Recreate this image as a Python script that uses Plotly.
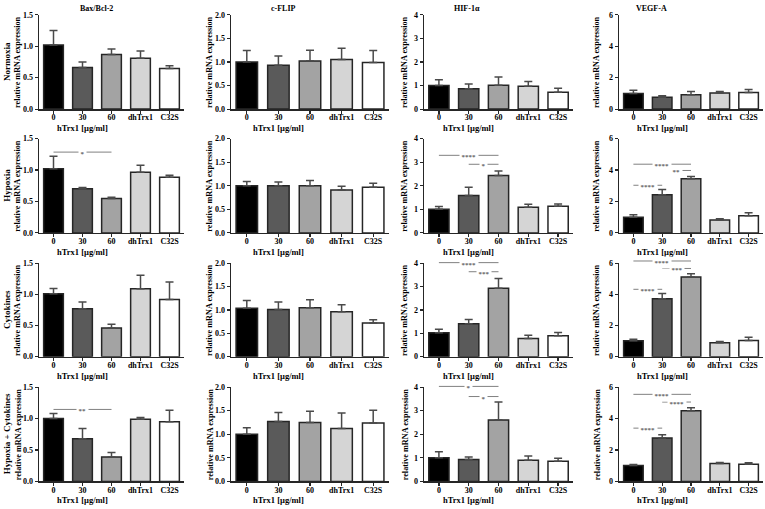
import plotly.graph_objects as go

# ---------------- data ----------------
categories = ["0", "30", "60", "dhTrx1", "C32S"]
genes = ["Bax/Bcl-2", "c-FLIP", "HIF-1α", "VEGF-A"]
conditions = ["Normoxia", "Hypoxia", "Cytokines", "Hypoxia + Cytokines"]
x_title = "hTrx1 [µg/ml]"
y_title = "relative mRNA expression"

y_max = [1.5, 2.0, 4, 6]
y_dtick = [0.5, 0.5, 1, 2]
y_format = [".1f", ".1f", "d", "d"]

# rows: Normoxia, Hypoxia, Cytokines, Hypoxia + Cytokines
bax_mean = [[1.02, 0.66, 0.87, 0.81, 0.645],
            [1.02, 0.70, 0.545, 0.965, 0.885],
            [1.01, 0.77, 0.46, 1.09, 0.92],
            [1.00, 0.68, 0.39, 0.99, 0.95]]
bax_err = [[0.23, 0.09, 0.085, 0.115, 0.045],
           [0.20, 0.02, 0.02, 0.11, 0.03],
           [0.085, 0.11, 0.06, 0.22, 0.28],
           [0.08, 0.16, 0.07, 0.025, 0.18]]

cflip_mean = [[1.00, 0.93, 1.02, 1.05, 0.99],
              [1.00, 1.00, 1.00, 0.91, 0.97],
              [1.035, 1.01, 1.05, 0.96, 0.72],
              [1.00, 1.27, 1.25, 1.12, 1.24]]
cflip_err = [[0.245, 0.195, 0.23, 0.24, 0.255],
             [0.09, 0.08, 0.11, 0.08, 0.08],
             [0.17, 0.16, 0.17, 0.15, 0.07],
             [0.14, 0.19, 0.24, 0.33, 0.27]]

hif_mean = [[1.00, 0.86, 1.01, 0.97, 0.72],
            [1.00, 1.59, 2.43, 1.09, 1.13],
            [1.02, 1.41, 2.93, 0.78, 0.90],
            [1.00, 0.93, 2.60, 0.90, 0.85]]
hif_err = [[0.25, 0.20, 0.35, 0.20, 0.17],
           [0.12, 0.35, 0.19, 0.12, 0.10],
           [0.15, 0.18, 0.42, 0.14, 0.13],
           [0.26, 0.11, 0.77, 0.18, 0.13]]

vegf_mean = [[1.00, 0.75, 0.92, 1.02, 1.05],
             [1.00, 2.43, 3.45, 0.82, 1.09],
             [1.02, 3.73, 5.12, 0.90, 1.04],
             [1.01, 2.76, 4.50, 1.14, 1.09]]
vegf_err = [[0.20, 0.10, 0.20, 0.10, 0.20],
            [0.15, 0.33, 0.13, 0.08, 0.19],
            [0.10, 0.33, 0.21, 0.08, 0.21],
            [0.06, 0.21, 0.19, 0.06, 0.09]]

# significance brackets
sig_row = [1, 1, 1, 1, 1, 1, 2, 2, 2, 2, 2, 3, 3, 3, 3, 3, 3]
sig_col = [0, 2, 2, 3, 3, 3, 2, 2, 3, 3, 3, 0, 2, 2, 3, 3, 3]
sig_from = [0, 0, 1, 0, 1, 0, 0, 1, 0, 1, 0, 0, 0, 1, 0, 1, 0]
sig_to = [2, 2, 2, 2, 2, 1, 2, 2, 2, 2, 1, 2, 2, 2, 2, 2, 1]
sig_y = [1.285, 3.29, 2.91, 4.37, 3.97, 3.03, 4.03, 3.64, 6.15, 5.67, 4.33,
         1.145, 4.03, 3.60, 5.54, 5.05, 3.39]
sig_label = ["*", "****", "*", "****", "**", "****", "****", "***", "****", "***", "****",
             "**", "*", "*", "****", "****", "****"]

# ---------------- style / layout ----------------
W, H = 765, 509
FONT = "Liberation Serif"
bar_colors = ["#000000", "#5a5a5a", "#a3a3a3", "#d5d5d5", "#ffffff"]
EDGE = "#262626"
ERR = "#4a4a4a"
AXC = "#262626"
SIGC = "#808080"

col_x0 = [39, 231, 424, 619]
col_x1 = [184, 389, 573, 763]
row_top = [11, 137, 264, 390]
row_bot = [107, 233, 359, 486]
ylab_x = [18, 210, 405, 597]
title_x = [96, 283, 467, 651]

means = [bax_mean, cflip_mean, hif_mean, vegf_mean]
errs = [bax_err, cflip_err, hif_err, vegf_err]
xpos = list(range(len(categories)))

fig = go.Figure()
layout = {}
annotations = []
shapes = []

def tf(size, color="black"):
    return dict(family=FONT, size=size, color=color, weight="bold")

for r in range(4):
    for c in range(4):
        k = r * 4 + c + 1
        sfx = "" if k == 1 else str(k)
        xa, ya = "x" + sfx, "y" + sfx
        fig.add_trace(go.Bar(
            x=xpos, y=means[c][r], width=0.68,
            marker=dict(color=bar_colors, line=dict(color=EDGE, width=1.5)),
            error_y=dict(type="data", array=errs[c][r], arrayminus=[0] * 5,
                         symmetric=False, color=ERR, thickness=1.5, width=4),
            xaxis=xa, yaxis=ya, showlegend=False, hoverinfo="skip"))
        layout["xaxis" + sfx] = dict(
            domain=[col_x0[c] / W, col_x1[c] / W], anchor=ya,
            range=[-0.5, 4.5], tickvals=xpos, ticktext=categories, tickangle=0,
            showline=True, linecolor=AXC, linewidth=1.5,
            ticks="outside", ticklen=3, tickwidth=1.2, tickcolor=AXC,
            ticklabelstandoff=-3,
            tickfont=tf(8), showgrid=False, zeroline=False, fixedrange=True)
        layout["yaxis" + sfx] = dict(
            domain=[1 - row_bot[r] / H, 1 - row_top[r] / H], anchor=xa,
            range=[0, y_max[c]], dtick=y_dtick[c], tick0=0, tickformat=y_format[c],
            showline=True, linecolor=AXC, linewidth=1.5,
            ticks="outside", ticklen=3, tickwidth=1.2, tickcolor=AXC,
            tickfont=tf(8), showgrid=False, zeroline=False, fixedrange=True)
        # x-axis title centred under the hTrx1 concentrations
        annotations.append(dict(
            xref=xa, yref=ya + " domain", x=1, y=0, yshift=-19,
            xanchor="center", yanchor="middle", showarrow=False,
            text=x_title, font=tf(8.5)))
        # y-axis title
        annotations.append(dict(
            xref="paper", yref="paper", x=ylab_x[c] / W,
            y=1 - (row_top[r] + row_bot[r]) / 2 / H,
            xanchor="center", yanchor="middle", textangle=-90, showarrow=False,
            text=y_title, font=tf(8.2)))

# condition labels
for r in range(4):
    annotations.append(dict(
        xref="paper", yref="paper", x=7 / W, y=1 - (row_top[r] + row_bot[r]) / 2 / H,
        xanchor="center", yanchor="middle", textangle=-90, showarrow=False,
        text=conditions[r], font=tf(9)))

# gene titles
for c in range(4):
    annotations.append(dict(
        xref="paper", yref="paper", x=title_x[c] / W, y=1 - 4.5 / H,
        xanchor="center", yanchor="middle", showarrow=False,
        text=genes[c], font=tf(8)))

# significance brackets
for r, c, i, j, yv, lab in zip(sig_row, sig_col, sig_from, sig_to, sig_y, sig_label):
    k = r * 4 + c + 1
    sfx = "" if k == 1 else str(k)
    xa, ya = "x" + sfx, "y" + sfx
    yd = yv / y_max[c]
    shapes.append(dict(type="line", xref=xa, yref=ya + " domain",
                       x0=i, x1=j, y0=yd, y1=yd,
                       line=dict(color=SIGC, width=1)))
    annotations.append(dict(
        xref=xa, yref=ya + " domain", x=(i + j) / 2, y=yd, yshift=-1.5,
        xanchor="center", yanchor="middle", showarrow=False,
        text=lab, font=tf(7, "#666666"), bgcolor="white", borderpad=1.5))

fig.update_layout(**layout)
fig.update_layout(
    width=W, height=H, margin=dict(l=0, r=0, t=0, b=0),
    paper_bgcolor="white", plot_bgcolor="white",
    bargap=0.3, showlegend=False,
    annotations=annotations, shapes=shapes)

fig.write_html("out.html",
               config={"displayModeBar": False, "staticPlot": True},
               post_script="document.body.style.margin='0';"
                           "document.body.style.overflow='hidden';")
